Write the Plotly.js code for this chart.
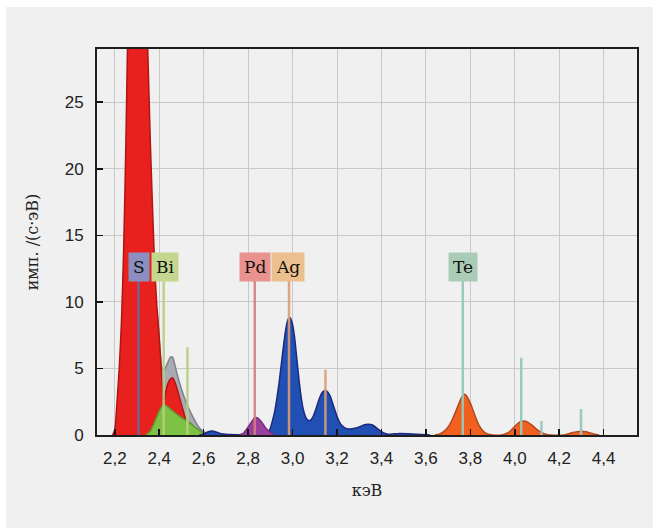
<!DOCTYPE html>
<html>
<head>
<meta charset="utf-8">
<script src="https://cdn.plot.ly/plotly-3.0.1.min.js"></script>
<style>
html,body{margin:0;padding:0;background:#ffffff;}
#chart{position:absolute;left:6px;top:7px;width:647px;height:521px;}
</style>
</head>
<body>
<div id="chart"></div>
<script>
// Spectrum components (energy keV, intensity imp/(s·eV))
const sX = [2.19,2.20,2.21,2.22,2.23,2.24,2.25,2.26,2.27,2.28,2.29,2.30,2.31,2.32,2.33,2.34,2.35,2.36,2.37,2.38,2.39,2.40,2.41,2.42,2.43,2.44,2.45,2.46,2.47,2.48,2.49,2.50,2.51,2.52,2.53,2.54,2.56];
const sY = [0,0.4,2.5,5,8.5,14,22,32,42,50,54,55,54,50,42,34,28,22,17,12.5,9.5,7.3,4.8,2.4,3.3,3.9,4.2,4.3,4.0,3.5,2.9,2.3,1.7,1.1,0.6,0.3,0];

const totalX = [2.39,2.40,2.41,2.42,2.43,2.44,2.45,2.46,2.47,2.48,2.49,2.50,2.51,2.52,2.53,2.54,2.55,2.56,2.57,2.58,2.60,2.62,2.64];
const totalY = [9.5,7.3,5.2,4.8,5.1,5.5,5.85,5.85,5.3,4.6,4.0,3.45,2.95,2.5,2.1,1.75,1.4,1.1,0.8,0.55,0.25,0.1,0];

const biX = [2.34,2.36,2.38,2.40,2.42,2.44,2.46,2.48,2.50,2.52,2.54,2.56,2.58,2.60];
const biY = [0,0.3,1.0,1.8,2.3,2.1,1.8,1.55,1.3,1.1,0.9,0.6,0.35,0.1];

const agX = [2.58,2.60,2.62,2.64,2.66,2.68,2.70,2.72,2.80,2.88,2.89,2.90,2.91,2.92,2.93,2.94,2.95,2.96,2.97,2.98,2.99,3.00,3.01,3.02,3.03,3.04,3.05,3.06,3.07,3.08,3.09,3.10,3.11,3.12,3.13,3.14,3.15,3.16,3.17,3.18,3.19,3.20,3.21,3.22,3.24,3.26,3.28,3.30,3.32,3.34,3.36,3.38,3.40,3.42,3.44,3.48,3.52,3.56,3.62];
const agY = [0,0.05,0.25,0.3,0.2,0.1,0.05,0.03,0.03,0.05,0.15,0.5,1.1,1.8,2.8,4.0,5.4,6.8,8.0,8.7,8.8,8.3,7.2,5.6,4.0,2.7,1.8,1.3,1.1,1.1,1.3,1.7,2.2,2.7,3.1,3.3,3.35,3.2,2.9,2.4,1.9,1.4,1.0,0.75,0.5,0.45,0.5,0.6,0.75,0.8,0.75,0.5,0.25,0.1,0.05,0.12,0.1,0.05,0];

const pdX = [2.76,2.78,2.80,2.82,2.83,2.84,2.86,2.88,2.90,2.92];
const pdY = [0,0.15,0.6,1.1,1.3,1.3,1.0,0.5,0.2,0];

const teX = [3.64,3.66,3.68,3.70,3.72,3.74,3.76,3.77,3.78,3.80,3.82,3.84,3.86,3.88,3.90,3.94,3.96,3.98,4.00,4.02,4.04,4.06,4.08,4.10,4.12,4.14,4.16,4.22,4.24,4.26,4.28,4.30,4.32,4.34,4.36,4.38];
const teY = [0,0.05,0.25,0.6,1.2,2.0,2.8,3.05,3.0,2.4,1.5,0.7,0.25,0.05,0,0,0.1,0.3,0.65,0.95,1.05,0.95,0.7,0.4,0.2,0.05,0,0,0.08,0.18,0.25,0.28,0.25,0.15,0.05,0];

// Characteristic line markers
const lineEnergy = [2.307,2.420,2.527,2.830,2.984,3.148,3.766,4.029,4.120,4.298];
const lineHeight = [11.7,11.6,6.6,11.6,11.6,4.9,11.7,5.8,1.05,1.95];
const lineElement = ['S','Bi','Bi','Pd','Ag','Ag','Te','Te','Te','Te'];

// Element labels
const labelNames = ['S','Bi','Pd','Ag','Te'];
const labelEnergy = [2.308,2.425,2.832,2.980,3.766];
const labelLevel = 12.6;

const xTicks = [2.2,2.4,2.6,2.8,3.0,3.2,3.4,3.6,3.8,4.0,4.2,4.4];
const yTicks = [0,5,10,15,20,25];

const elemLine = {S:'rgba(100,104,170,0.85)', Bi:'rgba(185,205,130,0.9)', Pd:'rgba(212,125,125,0.9)', Ag:'rgba(222,155,115,0.9)', Te:'rgba(150,198,188,0.95)'};
const elemBox = {S:'#8a8fc0', Bi:'#c4d78f', Pd:'#e8938e', Ag:'#ecc08e', Te:'#aacbb5'};

function area(x, y, fill, edge) {
  return {x:x, y:y, type:'scatter', mode:'lines', fill:'tozeroy', fillcolor:fill,
    line:{color:edge, width:1.5, shape:'spline', smoothing:0.6}, hoverinfo:'skip', showlegend:false};
}

const traces = [
  area(totalX, totalY, '#a9abb3', '#7d828c'),
  area(sX, sY, '#e8211f', '#b01515'),
  area(biX, biY, '#7dc243', '#5e9a35'),
  area(agX, agY, '#2050b4', '#1c2a7e'),
  area(pdX, pdY, '#9b3f9f', '#7a2f80'),
  area(teX, teY, '#f2601f', '#b04a1e')
];

lineEnergy.forEach((e, i) => {
  traces.push({x:[e, e], y:[0, lineHeight[i]], type:'scatter', mode:'lines',
    line:{color:elemLine[lineElement[i]], width:2.5}, hoverinfo:'skip', showlegend:false});
});

const annotations = labelNames.map((n, i) => ({
  x: labelEnergy[i], y: labelLevel, xref:'x', yref:'y', text:n, showarrow:false,
  bgcolor: elemBox[n], borderpad:4, font:{family:'DejaVu Serif', size:17, color:'#111'}
}));

const layout = {
  width:647, height:521,
  margin:{l:91, r:16, t:42, b:93},
  paper_bgcolor:'#f0f0f0', plot_bgcolor:'#f0f0f0',
  separators:', ',
  showlegend:false,
  xaxis:{range:[2.12,4.55], tickvals:xTicks, tickformat:'.1f', ticks:'inside', ticklen:6, tickcolor:'#111', tickwidth:1.5,
    showline:true, mirror:true, linecolor:'#1e1e1e', linewidth:2, showgrid:true, gridcolor:'#c9c9c9', gridwidth:1, zeroline:false,
    ticklabelstandoff:7,
    tickfont:{family:'Liberation Sans', size:17, color:'#222'},
    title:{text:'кэВ', font:{family:'DejaVu Serif', size:16, color:'#222'}, standoff:17}},
  yaxis:{range:[0,29], tickvals:yTicks, ticks:'inside', ticklen:6, tickcolor:'#111', tickwidth:1.5,
    showline:true, mirror:true, linecolor:'#1e1e1e', linewidth:2, showgrid:true, gridcolor:'#c9c9c9', gridwidth:1, zeroline:false,
    ticklabelstandoff:8,
    tickfont:{family:'Liberation Sans', size:17, color:'#222'},
    title:{text:'имп. /(с·эВ)', font:{family:'DejaVu Serif', size:16, color:'#222'}, standoff:22}},
  annotations: annotations
};

Plotly.newPlot('chart', traces, layout, {displayModeBar:false, staticPlot:true});
</script>
</body>
</html>
